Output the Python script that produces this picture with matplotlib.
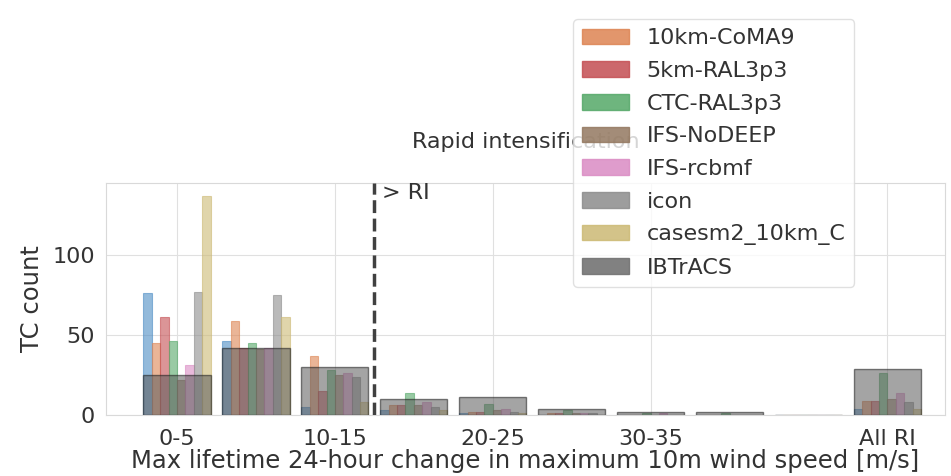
import numpy as np
import matplotlib
matplotlib.use("Agg")
import matplotlib.pyplot as plt
import matplotlib.patches as mpatches

plt.rcParams["font.family"] = "DejaVu Sans"
plt.rcParams["axes.edgecolor"] = "0.85"
plt.rcParams["grid.color"] = "0.88"
plt.rcParams["xtick.color"] = "0.2"
plt.rcParams["ytick.color"] = "0.2"

# 24-hour intensification bins (m/s) plus the pooled RI column
bins = ["0-5", "5-10", "10-15", "15-20", "20-25", "25-30",
        "30-35", "35-40", "40-45", "All RI"]
tick_idx = [0, 2, 4, 6, 9]

runs = ["_base", "10km-CoMA9", "5km-RAL3p3", "CTC-RAL3p3", "IFS-NoDEEP",
        "IFS-rcbmf", "icon", "casesm2_10km_C"]
run_colors = ["#4C8CC4", "#DD8452", "#C44E52", "#55A868", "#937860",
              "#DA8BC3", "#8C8C8C", "#CCB974"]

base_counts   = [76, 46, 5, 3, 1, 0, 0, 0, 0, 4]
coma9_counts  = [45, 59, 37, 6, 2, 1, 0, 0, 0, 9]
ral5_counts   = [61, 42, 15, 6, 2, 1, 0, 0, 0, 9]
ctc_counts    = [46, 45, 28, 14, 7, 3, 1, 1, 0, 26]
nodeep_counts = [22, 41, 25, 6, 3, 1, 0, 0, 0, 10]
rcbmf_counts  = [31, 42, 26, 8, 4, 1, 1, 0, 0, 14]
icon_counts   = [77, 75, 24, 5, 2, 1, 0, 0, 0, 8]
cases_counts  = [137, 61, 8, 3, 1, 0, 0, 0, 0, 4]
ibtracs_counts = [25, 42, 30, 10, 11, 4, 2, 2, 0, 29]

run_counts = [base_counts, coma9_counts, ral5_counts, ctc_counts,
              nodeep_counts, rcbmf_counts, icon_counts, cases_counts]

fig = plt.figure(figsize=(9.51, 4.76), dpi=100)
ax = fig.add_axes([106 / 951, 1 - 415 / 476, (945 - 106) / 951, (415 - 183) / 476])

x = np.arange(len(bins))
group_w = 0.85
w = group_w / len(runs)

for k, (name, col, vals) in enumerate(zip(runs, run_colors, run_counts)):
    pos = x - group_w / 2 + w * (k + 0.5)
    ax.bar(pos, vals, width=w, color=col, alpha=0.6, edgecolor=col,
           linewidth=0.8, label=name, zorder=2)

ax.bar(x, ibtracs_counts, width=group_w, color="0.35", alpha=0.55,
       edgecolor="0.1", linewidth=1.0, label="IBTrACS", zorder=3)

# RI threshold at 15 m/s
ax.axvline(2.5, color="0.25", ls="--", lw=2.5, zorder=4)
ax.text(2.6, 139, "> RI", fontsize=16, va="center", ha="left", color="0.2")

ax.set_xlim(-0.9, 9.73)
ax.set_ylim(0, 145)
ax.set_yticks([0, 50, 100])
ax.set_xticks(tick_idx)
ax.set_xticklabels([bins[i] for i in tick_idx])
ax.tick_params(axis="both", which="both", length=0, labelsize=16)
ax.tick_params(axis="x", pad=10)
ax.tick_params(axis="y", pad=8)
ax.grid(True, zorder=0)
ax.set_axisbelow(True)

ax.set_ylabel("TC count", fontsize=17.5, color="0.2", labelpad=6)
ax.set_xlabel("Max lifetime 24-hour change in maximum 10m wind speed [m/s]",
              fontsize=17.5, color="0.2", labelpad=0)
ax.set_title("Rapid intensification", fontsize=16, pad=25, color="0.2")

handles = [mpatches.Patch(color=c, alpha=0.85) for c in run_colors[1:]]
handles.append(mpatches.Patch(color="0.45", alpha=0.9))
labels = runs[1:] + ["IBTrACS"]
fig.legend(handles, labels, loc="lower left",
           bbox_to_anchor=(562 / 951, 1 - 298 / 476),
           fontsize=16, frameon=True, framealpha=0.8, edgecolor="0.85",
           fancybox=True, labelcolor="0.2", labelspacing=0.57,
           handlelength=2.1)

fig.savefig("out.png", dpi=100)
